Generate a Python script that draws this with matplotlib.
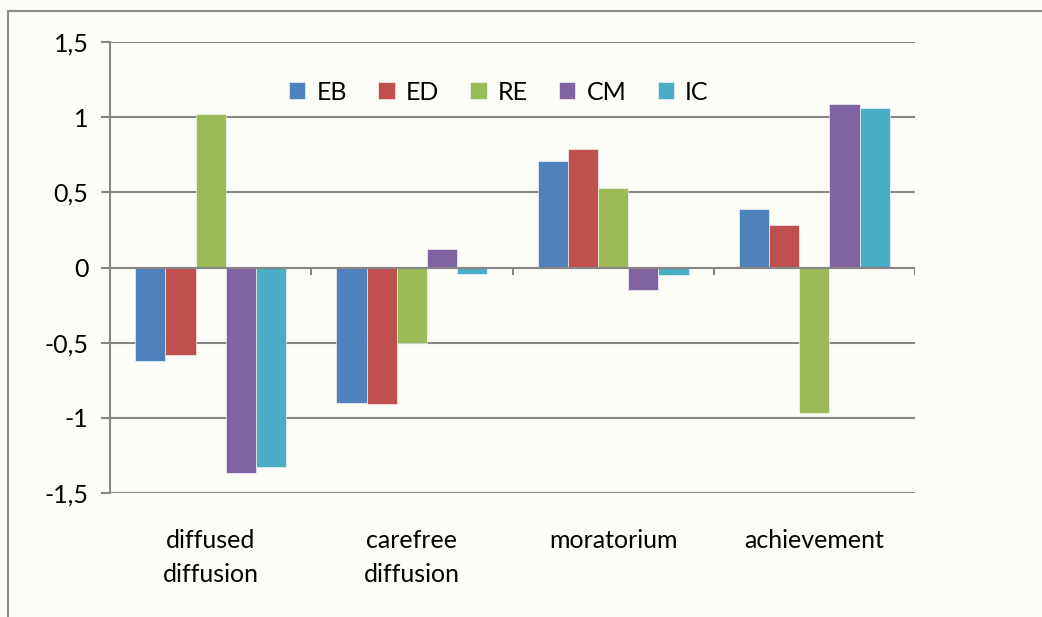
import numpy as np
import matplotlib
matplotlib.use("Agg")
import matplotlib.pyplot as plt
from matplotlib.lines import Line2D

# data
categories = ["diffused\ndiffusion", "carefree\ndiffusion", "moratorium", "achievement"]
series_names = ["EB", "ED", "RE", "CM", "IC"]
eb = [-0.62, -0.90, 0.71, 0.39]
ed = [-0.58, -0.91, 0.79, 0.28]
re_ = [1.02, -0.50, 0.53, -0.97]
cm = [-1.37, 0.12, -0.15, 1.09]
ic = [-1.33, -0.04, -0.05, 1.06]
yticks = [-1.5, -1, -0.5, 0, 0.5, 1, 1.5]
ytick_labels = ["-1,5", "-1", "-0,5", "0", "0,5", "1", "1,5"]

colors = ["#4F81BD", "#C0504D", "#9BBB59", "#8064A2", "#4BACC6"]
bg = "#FDFDF8"
grid_col = "#868686"
fs = 18

plt.rcParams['font.family'] = ['Lato', 'DejaVu Sans']

fig = plt.figure(figsize=(10.42, 6.17), dpi=100, facecolor=bg)
ax = fig.add_axes([110 / 1042, 1 - 493 / 617, 805 / 1042, 451 / 617])
ax.set_facecolor(bg)

x = np.arange(len(categories))
bar_w = 0.15
all_series = [eb, ed, re_, cm, ic]
for i, (name, vals) in enumerate(zip(series_names, all_series)):
    ax.bar(x + (i - 2) * bar_w, vals, width=bar_w, color=colors[i], label=name,
           edgecolor="white", linewidth=0.4, zorder=3)

ax.set_xlim(-0.5, len(categories) - 0.5)
ax.set_ylim(-1.5, 1.5)

# gridlines
ax.set_yticks(yticks)
ax.set_yticklabels(ytick_labels, fontsize=fs)
ax.yaxis.grid(True, color=grid_col, linewidth=1.5, zorder=1)
ax.tick_params(axis="y", length=6.5, width=1.5, color=grid_col, pad=9)

# category axis drawn on zero line
ax.axhline(0, color=grid_col, linewidth=1.5, zorder=4)
bounds = np.arange(len(categories) + 1) - 0.5
ax.vlines(bounds, -0.05, 0, color=grid_col, linewidth=1.5, zorder=4)

ax.set_xticks(x)
ax.set_xticklabels(categories, fontsize=fs, linespacing=1.55)
ax.tick_params(axis="x", length=0, pad=26)

for s in ["top", "right", "bottom"]:
    ax.spines[s].set_visible(False)
ax.spines["left"].set_color(grid_col)
ax.spines["left"].set_linewidth(1.5)

ax.legend(loc="center", bbox_to_anchor=(0.483, 0.889), ncol=5, frameon=False,
          fontsize=fs, handlelength=0.65, handleheight=0.65, handletextpad=0.45,
          columnspacing=1.25)

# outer chart frame
fig.add_artist(Line2D([8 / 1042, 8 / 1042], [0, 1 - 11 / 617], transform=fig.transFigure,
                      color="#8c8c8c", linewidth=1.5))
fig.add_artist(Line2D([8 / 1042, 1], [1 - 11 / 617, 1 - 11 / 617], transform=fig.transFigure,
                      color="#8c8c8c", linewidth=1.5))

fig.savefig("out.png", dpi=100, facecolor=bg)
